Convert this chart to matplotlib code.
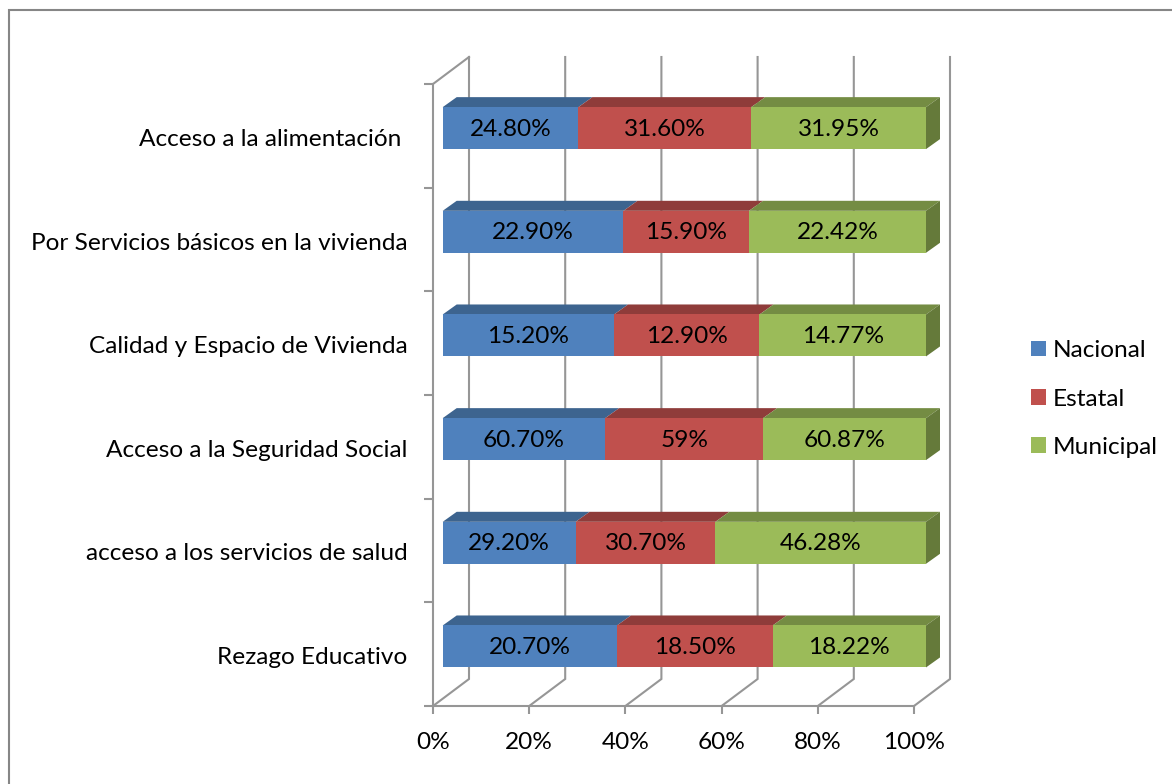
import numpy as np
import matplotlib
matplotlib.use("Agg")
import matplotlib.pyplot as plt
from matplotlib.lines import Line2D
from matplotlib.patches import Polygon, Patch
from matplotlib.transforms import ScaledTranslation

plt.rcParams['font.family'] = ['Lato', 'DejaVu Sans']

categories = ["Rezago Educativo", "acceso a los servicios de salud",
              "Acceso a la Seguridad Social", "Calidad y Espacio de Vivienda",
              "Por Servicios básicos en la vivienda", "Acceso a la alimentación "]
nacional = [20.70, 29.20, 60.70, 15.20, 22.90, 24.80]
estatal = [18.50, 30.70, 59, 12.90, 15.90, 31.60]
municipal = [18.22, 46.28, 60.87, 14.77, 22.42, 31.95]
nacional_labels = ["20.70%", "29.20%", "60.70%", "15.20%", "22.90%", "24.80%"]
estatal_labels = ["18.50%", "30.70%", "59%", "12.90%", "15.90%", "31.60%"]
municipal_labels = ["18.22%", "46.28%", "60.87%", "14.77%", "22.42%", "31.95%"]
series_names = ["Nacional", "Estatal", "Municipal"]
x_ticks = [0, 20, 40, 60, 80, 100]

W, H = 1172, 784
FS = 17.6
GRID = "#969696"
face = ["#4F81BD", "#C0504D", "#9BBB59"]
top = ["#3D648F", "#8F3C3A", "#748C43"]
side = "#657A3A"

fig = plt.figure(figsize=(W / 100, H / 100), dpi=100, facecolor="white")
# the outer frame is only visible along the top and the left
fig.add_artist(Line2D([8.5 / W, 8.5 / W, 1], [0, 1 - 9.5 / H, 1 - 9.5 / H],
                      transform=fig.transFigure, color="#868686", lw=1.5,
                      solid_joinstyle="miter"))


def axes_px(l, r, t, b):
    return fig.add_axes([l / W, 1 - b / H, (r - l) / W, (b - t) / H])


# chart frame: front plane of the axes
ax = axes_px(433, 914, 84, 706)
ax.set_xlim(0, 100)
ax.set_ylim(0, 6)
ax.patch.set_alpha(0)
for s in ("top", "right"):
    ax.spines[s].set_visible(False)
for s in ("left", "bottom"):
    ax.spines[s].set_color(GRID)
    ax.spines[s].set_linewidth(1.5)
ax.set_xticks(x_ticks)
ax.set_xticklabels([f"{v}%" for v in x_ticks], fontsize=FS)
ax.set_yticks(range(7))
ax.set_yticklabels([])
ax.set_yticks(np.arange(6) + 0.5, labels=categories, minor=True, fontsize=FS)
ax.tick_params(axis="y", which="minor", length=0, pad=18.5)
ax.tick_params(axis="y", which="major", length=6.5, width=1.5, color=GRID)
ax.tick_params(axis="x", length=5.5, width=1.5, color=GRID, pad=13)
shift_down = ScaledTranslation(0, -1.5 / 100, fig.dpi_scale_trans)
for lab in ax.get_yticklabels(minor=True):
    lab.set_transform(lab.get_transform() + shift_down)

# back wall and floor
dx = 36 / 4.81
dy = 27 / 103.67
for v in x_ticks:
    ax.plot([v, v + dx, v + dx], [0, dy, 6 + dy], color=GRID, lw=1.5, clip_on=False,
            solid_joinstyle="miter")
ax.plot([0, dx], [6, 6 + dy], color=GRID, lw=1.5, clip_on=False)

# stacked bars, normalised to 100 %
bx = axes_px(442.7, 926, 76.3, 698.3)
bx.set_xlim(0, 100)
bx.set_ylim(0, 6)
bx.axis("off")
bx.patch.set_alpha(0)

data = np.array([nacional, estatal, municipal], dtype=float)
labels = [nacional_labels, estatal_labels, municipal_labels]
shares = data / data.sum(axis=0) * 100
ypos = np.arange(6) + 0.5
bar_h = 0.405
ddx = 14 / 4.833
ddy = 10 / 103.67

left = np.zeros(6)
for k in range(3):
    bx.barh(ypos, shares[k], left=left, height=bar_h, color=face[k], linewidth=0, zorder=3)
    for i in range(6):
        x0, x1 = left[i], left[i] + shares[k][i]
        yt = ypos[i] + bar_h / 2
        bx.add_patch(Polygon([(x0, yt), (x1, yt), (x1 + ddx, yt + ddy), (x0 + ddx, yt + ddy)],
                             closed=True, fc=top[k], ec="none", clip_on=False, zorder=2))
        bx.annotate(labels[k][i], xy=((x0 + x1) / 2, ypos[i]), xytext=(0, -0.8),
                    textcoords="offset points", ha="center", va="center",
                    fontsize=FS, color="black", zorder=5)
    left = left + shares[k]

for i in range(6):
    yb, yt = ypos[i] - bar_h / 2, ypos[i] + bar_h / 2
    bx.add_patch(Polygon([(100, yb), (100 + ddx, yb + ddy), (100 + ddx, yt + ddy), (100, yt)],
                         closed=True, fc=side, ec="none", clip_on=False, zorder=2))

handles = [Patch(fc=c, ec="none", label=n) for c, n in zip(face, series_names)]
fig.legend(handles=handles, loc="center left", bbox_to_anchor=(1031 / W, 1 - 399 / H),
           frameon=False, fontsize=FS, handlelength=0.61, handleheight=0.61,
           handletextpad=0.29, labelspacing=1.12, borderpad=0, borderaxespad=0)

fig.savefig("out.png", dpi=100, facecolor="white")
